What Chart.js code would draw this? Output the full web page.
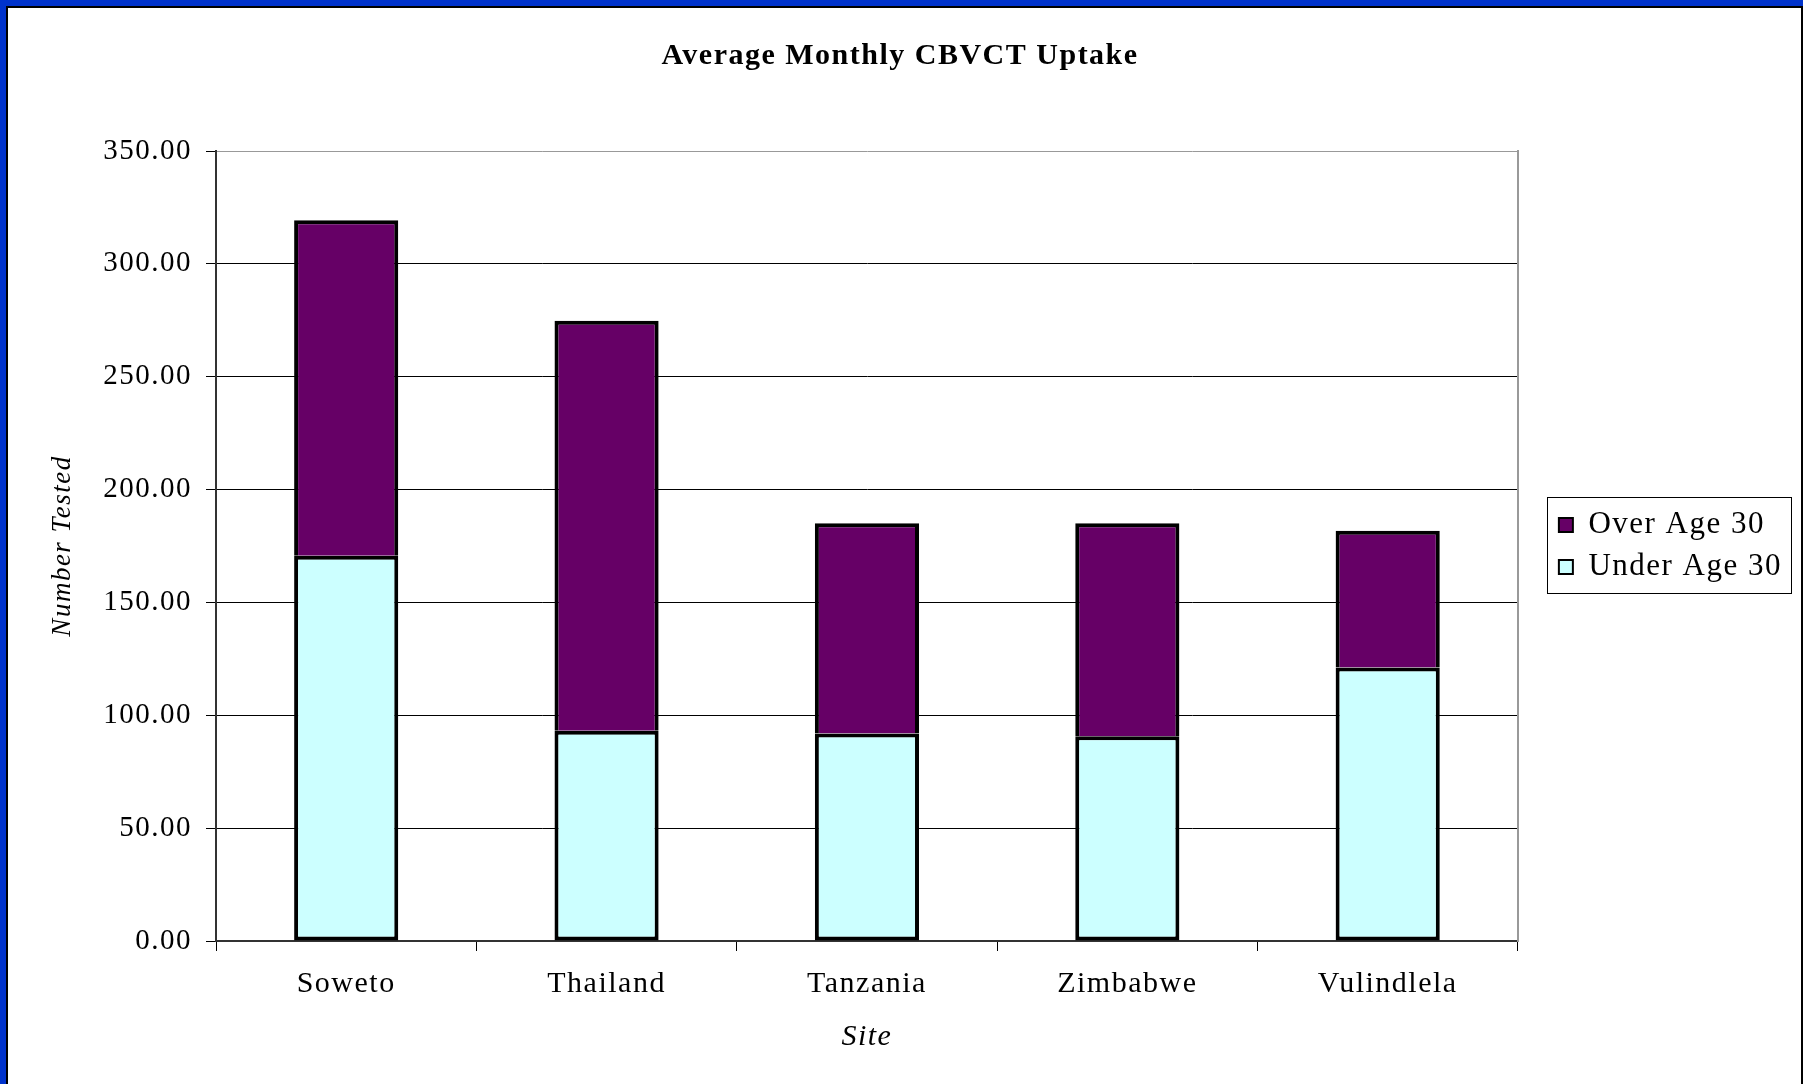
<!DOCTYPE html>
<html>
<head>
<meta charset="utf-8">
<script src="https://cdn.jsdelivr.net/npm/chart.js@4.4.1/dist/chart.umd.min.js"></script>
<style>
  body { margin: 0; background: #0033cc; overflow: hidden; }
  #frame {
    position: absolute;
    left: 6px;
    top: 6px;
    width: 1793px;
    height: 1090px;
    background: #fff;
    border: 2px solid #000;
  }
  canvas { display: block; }
</style>
</head>
<body>
<div id="frame">
  <canvas id="chart" width="1793" height="1076"></canvas>
</div>
<script>
const sites = ['Soweto', 'Thailand', 'Tanzania', 'Zimbabwe', 'Vulindlela']
const underAge30 = [170.7, 93.1, 91.9, 90.7, 121.2]
const overAge30 = [148.6, 181.7, 93.2, 94.4, 60.6]
const yTicks = [0, 50, 100, 150, 200, 250, 300, 350]

const serif = "'Liberation Serif', 'Times New Roman', serif"

// excel spreads its letters a little
const spacing = {
  id: 'spacing',
  beforeUpdate(chart) { chart.ctx.letterSpacing = '1.5px' },
  beforeDraw(chart) { chart.ctx.letterSpacing = '1.5px' }
}

// thin box round the legend
const legendFrame = {
  id: 'legendFrame',
  afterDraw(chart) {
    const lg = chart.legend
    const hb = lg.legendHitBoxes
    if (!hb || !hb.length) return
    const last = hb[hb.length - 1]
    const top = hb[0].top - 13
    const bottom = last.top + last.height + 10
    const ctx = chart.ctx
    ctx.save()
    ctx.strokeStyle = '#000'
    ctx.lineWidth = 1
    ctx.strokeRect(Math.round(lg.left) - 0.5, Math.round(top) + 0.5, Math.round(lg.width), Math.round(bottom - top))
    ctx.restore()
  }
}

new Chart(document.getElementById('chart'), {
  type: 'bar',
  data: {
    labels: sites,
    datasets: [
      {
        label: 'Under Age 30',
        data: underAge30,
        backgroundColor: '#ccffff',
        borderColor: '#000',
        borderWidth: 4,
        borderSkipped: false
      },
      {
        label: 'Over Age 30',
        data: overAge30,
        backgroundColor: '#660066',
        borderColor: '#000',
        borderWidth: 4,
        borderSkipped: 'bottom'
      }
    ]
  },
  options: {
    responsive: false,
    animation: false,
    categoryPercentage: 1,
    barPercentage: 0.4,
    layout: { padding: { left: 0, right: 9, top: 0, bottom: 0 } },
    scales: {
      x: {
        stacked: true,
        afterFit(scale) { scale.height = 143 },
        grid: {
          drawOnChartArea: false,
          tickLength: 10,
          tickColor: '#000'
        },
        border: { color: '#333', width: 2 },
        ticks: {
          color: '#000',
          padding: 15,
          font: { family: serif, size: 30 }
        },
        title: {
          display: true,
          text: 'Site',
          color: '#000',
          padding: { top: 0, bottom: 29 },
          font: { family: serif, size: 30, style: 'italic' }
        }
      },
      y: {
        stacked: true,
        min: 0,
        max: 350,
        afterFit(scale) { scale.width = 208 },
        afterBuildTicks(scale) { scale.ticks = yTicks.map(v => ({ value: v })) },
        grid: {
          color: c => (c.tick && c.tick.value === 350) ? '#999' : '#000',
          tickLength: 10,
          tickColor: '#000'
        },
        border: { color: '#333', width: 2 },
        ticks: {
          color: '#000',
          padding: 14,
          font: { family: serif, size: 29 },
          callback: v => v.toFixed(2)
        },
        title: {
          display: true,
          text: 'Number Tested',
          color: '#000',
          padding: { top: 39, bottom: 0 },
          font: { family: serif, size: 27, style: 'italic' }
        }
      },
      // empty axis, only gives the grey right edge and the gap before the legend
      y2: {
        position: 'right',
        afterFit(scale) { scale.width = 30 },
        grid: { drawOnChartArea: false, drawTicks: false },
        border: { color: '#999', width: 2 },
        ticks: { display: false }
      }
    },
    plugins: {
      title: {
        display: true,
        text: 'Average Monthly CBVCT Uptake',
        color: '#000',
        padding: { top: 30, bottom: 77 },
        font: { family: serif, size: 30, weight: 'bold' }
      },
      legend: {
        position: 'right',
        reverse: true,
        labels: {
          color: '#000',
          boxWidth: 14,
          boxHeight: 14,
          padding: 11,
          font: { family: serif, size: 31 },
          generateLabels(chart) {
            const items = Chart.defaults.plugins.legend.labels.generateLabels(chart)
            items.forEach(it => { it.lineWidth = 2 })
            return items
          }
        }
      },
      tooltip: { enabled: false }
    }
  },
  plugins: [spacing, legendFrame]
})
</script>
</body>
</html>
